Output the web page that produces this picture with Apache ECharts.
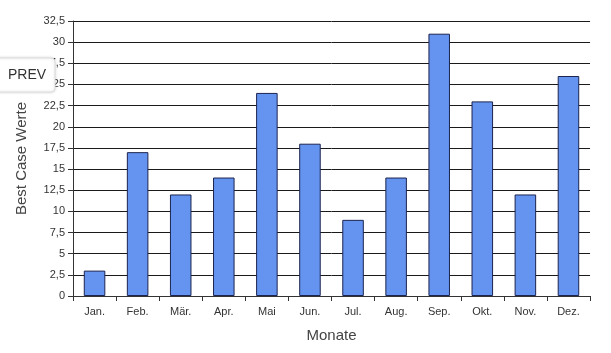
<!DOCTYPE html>
<html>
<head>
<meta charset="utf-8">
<script src="https://cdn.jsdelivr.net/npm/echarts@6/dist/echarts.min.js"></script>
<style>
  html, body { margin: 0; padding: 0; background: #fff; }
  #chart { width: 611px; height: 353px; }
</style>
</head>
<body>
<div id="chart"></div>
<script>
const months = ['Jan.', 'Feb.', 'Mär.', 'Apr.', 'Mai', 'Jun.', 'Jul.', 'Aug.', 'Sep.', 'Okt.', 'Nov.', 'Dez.'];
const bestCase = [3, 17, 12, 14, 24, 18, 9, 14, 31, 23, 12, 26];

const chart = echarts.init(document.getElementById('chart'));

const option = {
  animation: false,
  backgroundColor: '#fff',
  textStyle: { fontFamily: 'Liberation Sans, Arial, sans-serif' },
  grid: { left: 73, right: 21, top: 21, bottom: 57 },
  xAxis: {
    type: 'category',
    data: months,
    name: 'Monate',
    nameLocation: 'middle',
    nameGap: 32,
    nameTextStyle: { fontSize: 15, color: '#444' },
    axisLine: { lineStyle: { color: '#333', width: 1 } },
    axisTick: { show: true, length: 5, lineStyle: { color: '#333' } },
    axisLabel: { fontSize: 11, color: '#333', margin: 10 }
  },
  yAxis: {
    type: 'value',
    min: 0,
    max: 32.5,
    interval: 2.5,
    name: 'Best Case Werte',
    nameLocation: 'middle',
    nameGap: 44,
    nameTextStyle: { fontSize: 15, color: '#444' },
    axisLine: { show: true, lineStyle: { color: '#333', width: 1 } },
    axisTick: { show: true, length: 5, lineStyle: { color: '#333' } },
    axisLabel: {
      fontSize: 11,
      color: '#333',
      margin: 8,
      formatter: (v) => String(v).replace('.', ',')
    },
    splitLine: { lineStyle: { color: '#1a1a1a', width: 1 } }
  },
  series: [
    {
      type: 'bar',
      data: bestCase,
      barWidth: '50%',
      itemStyle: { color: '#6494ef', borderColor: '#1c2450', borderWidth: 1 }
    }
  ],
  graphic: [
    {
      type: 'rect',
      z: 100,
      shape: { x: -6, y: 58, width: 61, height: 34, r: 4 },
      style: { fill: '#fff', stroke: '#ddd', lineWidth: 1, shadowBlur: 3, shadowColor: 'rgba(0,0,0,0.15)' }
    },
    {
      type: 'text',
      z: 101,
      left: 8,
      top: 68,
      style: { text: 'PREV', fontSize: 14, fill: '#333', fontFamily: 'Liberation Sans, Arial, sans-serif' }
    }
  ]
};

chart.setOption(option);
</script>
</body>
</html>
